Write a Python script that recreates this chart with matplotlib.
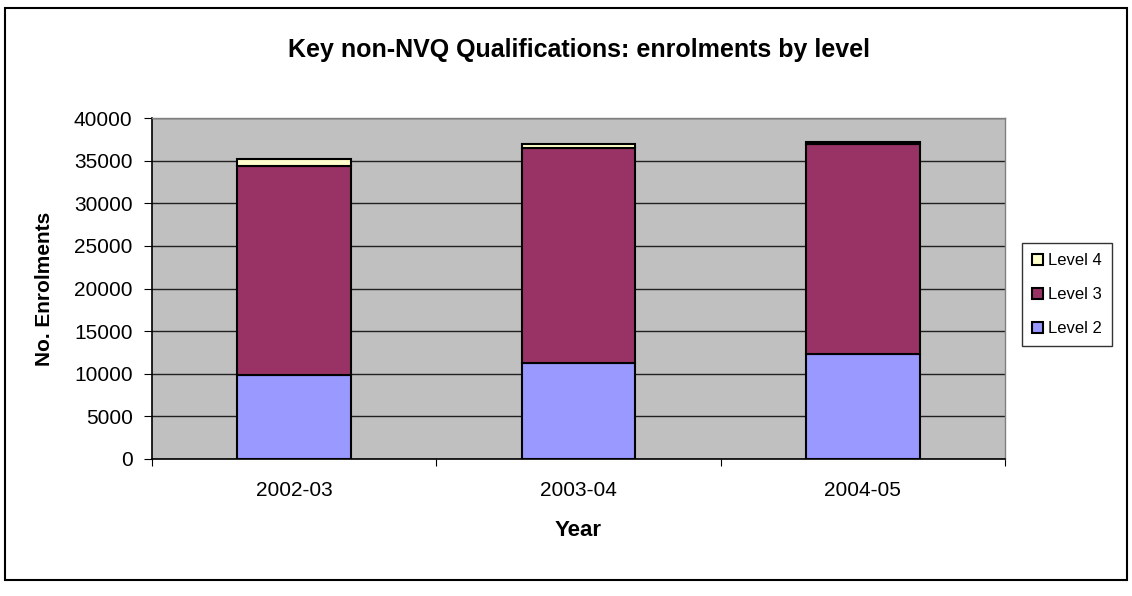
import matplotlib
matplotlib.use("Agg")
import matplotlib.pyplot as plt
from matplotlib.patches import Rectangle
import numpy as np

years = ["2002-03", "2003-04", "2004-05"]
level2 = [9800, 11250, 12350]
level3 = [24550, 25270, 24630]
level4 = [870, 470, 200]
y_ticks = [0, 5000, 10000, 15000, 20000, 25000, 30000, 35000, 40000]

plt.rcParams['font.family'] = ['Liberation Sans', 'DejaVu Sans']

W, H = 1132, 596
fig = plt.figure(figsize=(W/100, H/100), dpi=100)
fig.patch.set_facecolor('white')

# outer border
fig.add_artist(Rectangle((5/W, 1 - 580/H), (1127-5)/W, (580-8)/H, transform=fig.transFigure,
                         fill=False, edgecolor='black', linewidth=1.5))

left, right, top, bottom = 152, 1005, 118, 459
ax = fig.add_axes([left/W, 1 - bottom/H, (right-left)/W, (bottom-top)/H])
ax.set_facecolor('#C0C0C0')

x = np.arange(len(years))
w = 0.4
b2 = np.array(level2)
b3 = b2 + np.array(level3)
ax.bar(x, level2, w, color='#9999FF', edgecolor='black', linewidth=1.5, label='Level 2', zorder=3)
ax.bar(x, level3, w, bottom=b2, color='#993366', edgecolor='black', linewidth=1.5, label='Level 3', zorder=3)
ax.bar(x, level4, w, bottom=b3, color='#FFFFCC', edgecolor='black', linewidth=1.5, label='Level 4', zorder=3)

ax.set_xlim(-0.5, len(years) - 0.5)
ax.set_ylim(0, 40000)
ax.set_yticks(y_ticks)
ax.set_yticklabels([str(v) for v in y_ticks], fontsize=15)
ax.yaxis.grid(True, color='#202020', linewidth=1.0, zorder=0)
ax.set_axisbelow(True)
ax.set_xticks(np.arange(len(years) + 1) - 0.5)
ax.set_xticklabels([])
ax.set_xticks(x, minor=True)
ax.set_xticklabels(years, minor=True, fontsize=15)
ax.tick_params(axis='x', which='minor', length=0, pad=16)
ax.tick_params(axis='x', which='major', length=5, direction='out')
ax.tick_params(axis='y', length=6, direction='out', pad=8)
for s in ['left', 'bottom']:
    ax.spines[s].set_color('black')
    ax.spines[s].set_linewidth(1.2)
for s in ['top', 'right']:
    ax.spines[s].set_color('#808080')
    ax.spines[s].set_linewidth(1.0)

ax.set_xlabel('Year', fontsize=16, fontweight='bold')
ax.xaxis.set_label_coords(0.5, -(531 - bottom) / (bottom - top), transform=ax.transAxes)
ax.xaxis.label.set_verticalalignment('center')
ax.set_ylabel('No. Enrolments', fontsize=15, fontweight='bold')
ax.yaxis.set_label_coords(-(left - 45) / (right - left), 0.5)
ax.yaxis.label.set_verticalalignment('center')

fig.text(0.5 * (left + right) / W + 0.0, 1 - 50/H, 'Key non-NVQ Qualifications: enrolments by level',
         ha='center', va='center', fontsize=18, fontweight='bold')

handles, labels = ax.get_legend_handles_labels()
leg = fig.legend(handles[::-1], labels[::-1], loc='upper left',
                 bbox_to_anchor=(1022/W, 1 - 243/H), fontsize=12, frameon=True,
                 fancybox=False, edgecolor='black', handlelength=0.65, handleheight=0.65,
                 handletextpad=0.3, labelspacing=1.15, borderpad=0.6, borderaxespad=0)
leg.get_frame().set_linewidth(1.0)

fig.savefig('out.png', dpi=100)
